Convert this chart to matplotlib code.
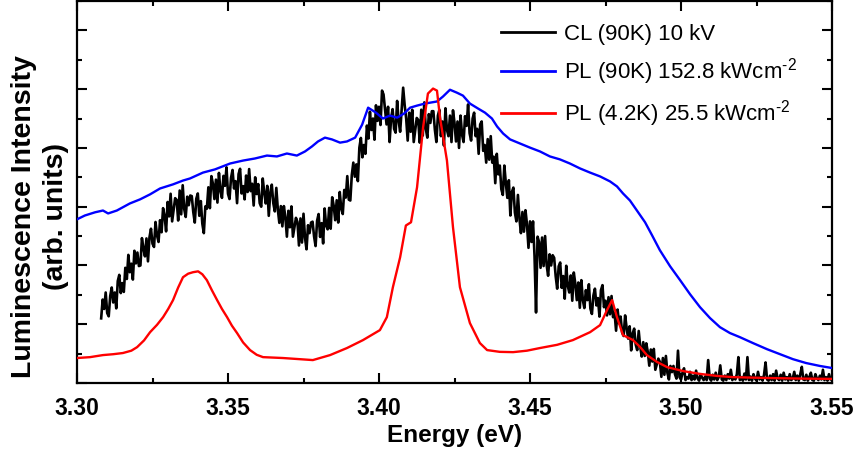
import numpy as np
import matplotlib
matplotlib.use("Agg")
import matplotlib.pyplot as plt
from matplotlib.ticker import MultipleLocator, FixedLocator

plt.rcParams['font.family'] = ['Liberation Sans', 'DejaVu Sans']
plt.rcParams['mathtext.fontset'] = 'custom'
plt.rcParams['mathtext.rm'] = 'Liberation Sans'
plt.rcParams['mathtext.it'] = 'Liberation Sans:italic'
plt.rcParams['mathtext.bf'] = 'Liberation Sans:bold'

# ---------------- data ----------------
labels = ["CL (90K) 10 kV",
          r"PL (90K) 152.8 kWcm$^{\text{-2}}$",
          r"PL (4.2K) 25.5 kWcm$^{\text{-2}}$"]
colors = ["#000000", "#0000ff", "#ff0000"]

# CL (90K) 10 kV : evenly sampled spectrum, 3.308 .. 3.550 eV, 0.5 meV step
cl_start, cl_stop = 3.308, 3.550
cl_y = [
    2.2, 2.84, 2.52, 3.08, 2.38, 2.27, 2.96, 3.25, 2.74, 3.08, 2.54, 3.47, 3.68, 3.06, 3.4, 3.1, 3.92, 3.54, 4.36, 3.77,
    4.06, 3.52, 4.5, 4.07, 4.44, 3.98, 4.0, 4.93, 4.58, 4.31, 4.92, 4.14, 4.96, 5.25, 4.74, 4.63, 5.48, 5.02, 4.8, 5.54,
    5.13, 5.95, 5.69, 5.16, 6.16, 5.67, 6.44, 5.5, 5.91, 6.29, 6.23, 5.53, 6.55, 5.74, 6.73, 5.92, 5.65, 6.34, 6.05, 6.38,
    6.36, 5.82, 5.46, 6.27, 6.45, 5.69, 6.19, 5.42, 5.1, 6.01, 5.93, 6.66, 5.95, 7.04, 6.78, 6.26, 6.92, 6.14, 7.15, 6.54,
    6.3, 7.05, 6.71, 7.34, 6.44, 6.26, 6.98, 7.25, 6.62, 6.87, 6.12, 7.11, 7.29, 6.45, 6.7, 6.25, 7.06, 6.5, 7.28, 6.53,
    6.78, 6.04, 7.0, 6.43, 6.77, 6.12, 6.0, 6.96, 6.49, 6.11, 6.71, 5.69, 6.48, 6.75, 6.12, 5.84, 6.64, 5.91, 5.45, 6.02,
    5.33, 6.02, 5.64, 4.98, 5.86, 5.3, 6.01, 4.98, 5.31, 5.62, 5.48, 4.68, 5.6, 4.78, 5.76, 4.94, 4.55, 5.37, 5.1, 5.46,
    5.49, 4.99, 4.66, 5.52, 5.75, 4.97, 5.44, 4.75, 5.94, 5.36, 5.23, 5.96, 5.25, 6.32, 6.03, 5.54, 6.22, 5.46, 6.5, 5.94,
    5.75, 6.57, 6.31, 7.04, 6.24, 6.21, 7.08, 7.5, 7.02, 7.44, 6.87, 8.01, 8.34, 7.68, 8.1, 7.8, 8.76, 8.32, 9.23, 8.61,
    9.0, 8.28, 9.45, 8.92, 9.4, 8.78, 9.95, 9.82, 9.3, 8.8, 9.4, 8.2, 9.0, 9.32, 8.65, 8.52, 9.6, 8.92, 8.55, 9.32,
    10.05, 9.45, 9.0, 8.25, 9.2, 8.55, 9.3, 8.2, 8.6, 9.02, 8.95, 8.18, 9.3, 8.42, 9.55, 8.65, 8.35, 9.15, 8.85, 9.25,
    9.25, 8.62, 8.2, 9.1, 9.3, 8.4, 8.9, 8.08, 9.35, 8.62, 8.4, 9.1, 8.2, 9.28, 8.85, 8.22, 8.9, 8.0, 9.1, 8.45,
    8.2, 9.08, 8.75, 9.48, 8.5, 8.25, 9.0, 9.2, 8.4, 8.65, 7.8, 8.8, 8.9, 7.9, 8.1, 7.5, 8.3, 7.6, 8.4, 7.5,
    7.7, 6.8, 7.8, 7.1, 7.4, 6.6, 6.4, 7.4, 6.8, 6.3, 6.9, 5.7, 6.5, 6.65, 5.8, 5.5, 6.4, 5.6, 5.1, 5.82,
    5.15, 5.88, 5.4, 4.6, 5.5, 4.8, 5.5, 4.32, 2.4, 4.98, 4.8, 3.92, 4.95, 3.98, 5.0, 4.02, 3.65, 4.38, 4.0, 4.35,
    4.26, 3.64, 3.21, 3.97, 4.1, 3.24, 3.64, 2.87, 3.99, 3.31, 3.08, 3.66, 2.8, 3.76, 3.38, 2.82, 3.42, 2.56, 3.5, 2.82,
    2.55, 3.16, 2.82, 3.36, 2.53, 2.35, 2.98, 3.21, 2.64, 2.89, 2.26, 3.16, 3.33, 2.58, 2.8, 2.3, 2.92, 2.34, 2.96, 2.24,
    2.39, 1.78, 2.5, 2.03, 2.26, 1.72, 1.6, 2.3, 1.87, 1.51, 1.93, 1.11, 1.69, 1.85, 1.31, 1.12, 1.77, 1.23, 0.9, 1.39,
    0.92, 1.35, 1.06, 0.59, 1.14, 0.73, 1.16, 0.45, 0.64, 0.83, 0.72, 0.21, 0.85, 0.28, 0.92, 0.34, 0.12, 0.58, 0.37, 0.58,
    0.3, 0.15, 1.1, 0.2, 0.12, 0.35, 0.5, 0.1, 0.2, 0.15, 0.38, 0.1, 0.25, 0.12, 0.42, 0.15, 0.08, 0.3, 0.18, 0.1,
    0.22, 0.1, 0.78, 0.15, 0.08, 0.28, 0.12, 0.35, 0.1, 0.2, 0.6, 0.12, 0.08, 0.25, 0.1, 0.3, 0.15, 0.45, 0.1, 0.2,
    0.12, 0.3, 0.88, 0.1, 0.2, 0.08, 0.32, 0.12, 0.88, 0.1, 0.22, 0.08, 0.3, 0.15, 0.08, 0.38, 0.12, 0.2, 0.08, 0.28,
    0.7, 0.12, 0.08, 0.25, 0.1, 0.3, 0.08, 0.42, 0.15, 0.1, 0.28, 0.08, 0.35, 0.12, 0.2, 0.08, 0.3, 0.1, 0.15, 0.38,
    0.1, 0.25, 0.08, 0.3, 0.55, 0.12, 0.1, 0.28, 0.08, 0.2, 0.35, 0.1, 0.08, 0.3, 0.15, 0.1, 0.25, 0.12, 0.45, 0.1,
    0.2, 0.08, 0.3, 0.12, 0.15,
]
cl_x = np.linspace(cl_start, cl_stop, len(cl_y))

# PL (90K) 152.8 kW/cm2
pl90_x = [3.3000, 3.3026, 3.3060, 3.3086, 3.3103, 3.3132, 3.3175, 3.3209,
          3.3242, 3.3275, 3.3318, 3.3351, 3.3374, 3.3417, 3.3457, 3.3507,
          3.3550, 3.3589, 3.3629, 3.3662, 3.3695, 3.3728, 3.3755, 3.3778,
          3.3798, 3.3821, 3.3844, 3.3871, 3.3894, 3.3921, 3.3944, 3.3964,
          3.3990, 3.4013, 3.4036, 3.4060, 3.4083, 3.4103, 3.4126, 3.4152,
          3.4192, 3.4212, 3.4235, 3.4258, 3.4278, 3.4301, 3.4328, 3.4351,
          3.4374, 3.4391, 3.4411, 3.4434, 3.4467, 3.4500, 3.4533, 3.4566,
          3.4599, 3.4632, 3.4666, 3.4699, 3.4732, 3.4765, 3.4788, 3.4808,
          3.4831, 3.4854, 3.4881, 3.4904, 3.4930, 3.4964, 3.4997, 3.5030,
          3.5063, 3.5096, 3.5129, 3.5162, 3.5195, 3.5238, 3.5285, 3.5328,
          3.5371, 3.5414, 3.5460, 3.5500]
pl90_y = [5.57, 5.70, 5.81, 5.87, 5.77, 5.87, 6.11, 6.25,
          6.42, 6.62, 6.76, 6.89, 6.96, 7.16, 7.27, 7.47,
          7.57, 7.64, 7.74, 7.71, 7.81, 7.74, 7.88, 8.05,
          8.22, 8.35, 8.29, 8.18, 8.22, 8.35, 8.79, 9.37,
          9.20, 9.00, 9.10, 9.03, 9.17, 9.37, 9.44, 9.51,
          9.58, 9.75, 9.98, 9.88, 9.78, 9.51, 9.34, 9.20,
          9.00, 8.73, 8.49, 8.29, 8.15, 8.01, 7.88, 7.71,
          7.61, 7.47, 7.30, 7.16, 7.03, 6.86, 6.69, 6.45,
          6.21, 5.87, 5.47, 5.03, 4.52, 3.97, 3.50, 3.02,
          2.58, 2.21, 1.90, 1.70, 1.56, 1.36, 1.15, 0.98,
          0.81, 0.68, 0.58, 0.51]

# PL (4.2K) 25.5 kW/cm2
pl42_x = [3.3000, 3.3043, 3.3086, 3.3120, 3.3152, 3.3180, 3.3199, 3.3222,
          3.3242, 3.3265, 3.3285, 3.3302, 3.3318, 3.3335, 3.3351, 3.3368,
          3.3384, 3.3401, 3.3415, 3.3430, 3.3447, 3.3464, 3.3480, 3.3497,
          3.3513, 3.3530, 3.3550, 3.3573, 3.3595, 3.3616, 3.3682, 3.3781,
          3.3838, 3.3894, 3.3947, 3.4003, 3.4026, 3.4046, 3.4070, 3.4089,
          3.4106, 3.4126, 3.4146, 3.4162, 3.4179, 3.4192, 3.4202, 3.4225,
          3.4245, 3.4268, 3.4301, 3.4334, 3.4358, 3.4400, 3.4444, 3.4490,
          3.4533, 3.4590, 3.4642, 3.4699, 3.4732, 3.4755, 3.4772, 3.4788,
          3.4808, 3.4841, 3.4865, 3.4887, 3.4920, 3.4954, 3.5010, 3.5063,
          3.5120, 3.5172, 3.5285, 3.5400, 3.5500]
pl42_y = [0.85, 0.88, 0.95, 0.98, 1.02, 1.10, 1.22, 1.45,
          1.73, 1.98, 2.24, 2.52, 2.82, 3.25, 3.60, 3.72,
          3.77, 3.80, 3.70, 3.50, 3.15, 2.82, 2.52, 2.24,
          1.95, 1.70, 1.38, 1.12, 0.96, 0.88, 0.85, 0.78,
          0.95, 1.19, 1.46, 1.80, 2.24, 3.26, 4.28, 5.36,
          5.47, 6.66, 8.70, 9.85, 10.02, 9.95, 9.03, 7.57,
          5.30, 3.26, 2.04, 1.36, 1.12, 1.06, 1.05, 1.10,
          1.19, 1.30, 1.46, 1.73, 1.97, 2.48, 2.82, 2.24,
          1.63, 1.46, 1.22, 0.95, 0.72, 0.54, 0.40, 0.31,
          0.24, 0.20, 0.17, 0.15, 0.14]

x_ticks = [3.30, 3.35, 3.40, 3.45, 3.50, 3.55]
x_ticklabels = ["3.30", "3.35", "3.40", "3.45", "3.50", "3.55"]
x_label = "Energy (eV)"
y_label = "Luminescence Intensity\n(arb. units)"

# ---------------- figure ----------------
fig = plt.figure(figsize=(8.6, 4.59), dpi=100)
ax = fig.add_axes([77/860, 1 - 383/459, (832-77)/860, 382/459])

ax.plot(cl_x, cl_y, color=colors[0], lw=1.9, label=labels[0], zorder=2)
ax.plot(pl90_x, pl90_y, color=colors[1], lw=1.7, label=labels[1], zorder=3)
ax.plot(pl42_x, pl42_y, color=colors[2], lw=1.7, label=labels[2], zorder=4)

ax.set_xlim(3.30, 3.55)
ax.set_ylim(0, 13)

ax.xaxis.set_major_locator(FixedLocator(x_ticks))
ax.set_xticklabels(x_ticklabels, fontweight='bold', fontsize=16.5)
ax.xaxis.set_minor_locator(MultipleLocator(0.025))
ax.yaxis.set_major_locator(MultipleLocator(2))
ax.yaxis.set_minor_locator(MultipleLocator(1))
ax.set_yticklabels([])

ax.tick_params(which='both', direction='in', top=True, right=True, width=1.5)
ax.tick_params(which='major', length=7)
ax.tick_params(which='minor', length=3.6)
ax.tick_params(axis='x', which='major', pad=10)
ax.tick_params(axis='y', labelleft=False)

for s in ax.spines.values():
    s.set_linewidth(1.6)

ax.set_xlabel(x_label, fontsize=17.5, fontweight='bold', labelpad=3)
fig.text(40/860, 1 - 217/459, y_label, rotation=90, ha='center', va='center',
         multialignment='center', fontsize=20.5, fontweight='bold', linespacing=1.3)

leg = ax.legend(loc='upper left', bbox_to_anchor=(0.561, 0.94), frameon=False,
                fontsize=16, handlelength=2.45, handletextpad=0.4,
                labelspacing=0.5, borderpad=0, borderaxespad=0)
for h in leg.get_lines():
    h.set_linewidth(2.0)

fig.savefig("out.png", dpi=100)
